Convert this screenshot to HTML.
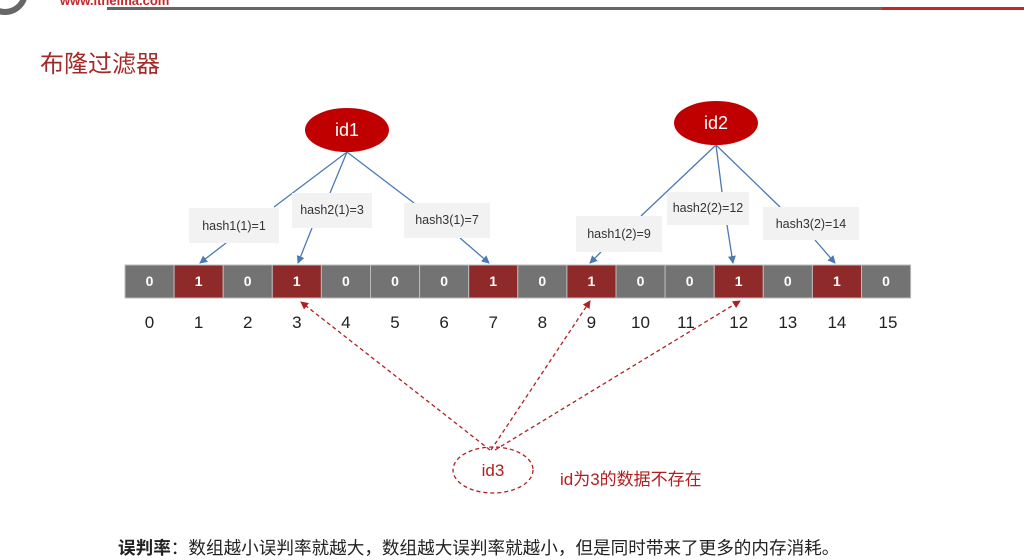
<!DOCTYPE html>
<html><head><meta charset="utf-8"><style>
body{margin:0;width:1024px;height:560px;background:#fff;overflow:hidden;position:relative;font-family:"Liberation Sans","Noto Sans CJK SC",sans-serif}
.t{position:absolute;white-space:nowrap}
</style></head><body>
<svg width="1024" height="560" style="position:absolute;left:0;top:0">
<defs>
<marker id="ab" markerWidth="8" markerHeight="8" refX="7" refY="4" orient="auto" markerUnits="userSpaceOnUse"><path d="M0,0 L8,4 L0,8z" fill="#4a7ab5"/></marker>
<marker id="ar" markerWidth="8" markerHeight="8" refX="7" refY="4" orient="auto" markerUnits="userSpaceOnUse"><path d="M0,0 L8,4 L0,8z" fill="#b02020"/></marker>
</defs>
<circle cx="5" cy="-8" r="20" fill="none" stroke="#666" stroke-width="6"/>
<text x="60" y="5" font-size="13" font-weight="bold" fill="#c0282d" font-family="Liberation Sans">www.itheima.com</text>
<rect x="107" y="7" width="775" height="3" fill="#666"/>
<rect x="882" y="7" width="142" height="3" fill="#c0282d"/>
<g stroke="#bbb" stroke-width="1">
<rect x="125" y="265" width="49.1" height="33" fill="#737373"/>
<rect x="174.1" y="265" width="49.1" height="33" fill="#8e2a2a"/>
<rect x="223.2" y="265" width="49.1" height="33" fill="#737373"/>
<rect x="272.3" y="265" width="49.1" height="33" fill="#8e2a2a"/>
<rect x="321.4" y="265" width="49.1" height="33" fill="#737373"/>
<rect x="370.5" y="265" width="49.1" height="33" fill="#737373"/>
<rect x="419.6" y="265" width="49.1" height="33" fill="#737373"/>
<rect x="468.7" y="265" width="49.1" height="33" fill="#8e2a2a"/>
<rect x="517.8" y="265" width="49.1" height="33" fill="#737373"/>
<rect x="566.9" y="265" width="49.1" height="33" fill="#8e2a2a"/>
<rect x="616" y="265" width="49.1" height="33" fill="#737373"/>
<rect x="665.1" y="265" width="49.1" height="33" fill="#737373"/>
<rect x="714.2" y="265" width="49.1" height="33" fill="#8e2a2a"/>
<rect x="763.3" y="265" width="49.1" height="33" fill="#737373"/>
<rect x="812.4" y="265" width="49.1" height="33" fill="#8e2a2a"/>
<rect x="861.5" y="265" width="49.1" height="33" fill="#737373"/>
</g>
<g font-family="Liberation Sans" font-size="14" font-weight="bold" fill="#fff" text-anchor="middle">
<text x="149.5" y="286">0</text><text x="198.6" y="286">1</text><text x="247.7" y="286">0</text><text x="296.8" y="286">1</text>
<text x="345.9" y="286">0</text><text x="395" y="286">0</text><text x="444.1" y="286">0</text><text x="493.2" y="286">1</text>
<text x="542.3" y="286">0</text><text x="591.4" y="286">1</text><text x="640.5" y="286">0</text><text x="689.6" y="286">0</text>
<text x="738.7" y="286">1</text><text x="787.8" y="286">0</text><text x="836.9" y="286">1</text><text x="886" y="286">0</text>
</g>
<g font-family="Liberation Sans" font-size="17" fill="#222" text-anchor="middle">
<text x="149.5" y="328">0</text><text x="198.6" y="328">1</text><text x="247.7" y="328">2</text><text x="296.8" y="328">3</text>
<text x="345.9" y="328">4</text><text x="395" y="328">5</text><text x="444.1" y="328">6</text><text x="493.2" y="328">7</text>
<text x="542.3" y="328">8</text><text x="591.4" y="328">9</text><text x="640.5" y="328">10</text><text x="686" y="328">11</text>
<text x="738.7" y="328">12</text><text x="787.8" y="328">13</text><text x="836.9" y="328">14</text><text x="888" y="328">15</text>
</g>
<g stroke="#4a7ab5" stroke-width="1.3" fill="none">
<line x1="347" y1="152" x2="274" y2="207"/><line x1="347" y1="152" x2="330" y2="193"/><line x1="347" y1="152" x2="414" y2="203"/>
<line x1="716" y1="145" x2="641" y2="216"/><line x1="716" y1="145" x2="722" y2="192"/><line x1="716" y1="145" x2="780" y2="207"/>
<line x1="226" y1="243" x2="200" y2="263" marker-end="url(#ab)"/><line x1="312" y1="228" x2="298" y2="263" marker-end="url(#ab)"/><line x1="460" y1="238" x2="489" y2="263" marker-end="url(#ab)"/>
<line x1="601" y1="252" x2="590" y2="263" marker-end="url(#ab)"/><line x1="727" y1="225" x2="733" y2="263" marker-end="url(#ab)"/><line x1="815" y1="240" x2="835" y2="263" marker-end="url(#ab)"/>
</g>
<g fill="#f2f2f2">
<rect x="189" y="208" width="90" height="35"/><rect x="292" y="193" width="80" height="35"/><rect x="404" y="203" width="86" height="35"/>
<rect x="576" y="216" width="86" height="36"/><rect x="667" y="192" width="82" height="33"/><rect x="763" y="207" width="96" height="33"/>
</g>
<g font-family="Liberation Sans" font-size="12.5" fill="#333" text-anchor="middle">
<text x="234" y="230">hash1(1)=1</text><text x="332" y="214">hash2(1)=3</text><text x="447" y="224">hash3(1)=7</text>
<text x="619" y="238">hash1(2)=9</text><text x="708" y="212">hash2(2)=12</text><text x="811" y="228">hash3(2)=14</text>
</g>
<ellipse cx="347" cy="130" rx="42" ry="22" fill="#c00000"/>
<ellipse cx="716" cy="123" rx="42" ry="22" fill="#c00000"/>
<g font-family="Liberation Sans" font-size="18" fill="#fff" text-anchor="middle"><text x="347" y="136">id1</text><text x="716" y="129">id2</text></g>
<g stroke="#b02020" stroke-width="1.3" stroke-dasharray="4,3" fill="none">
<line x1="490" y1="450" x2="301" y2="302" marker-end="url(#ar)"/>
<line x1="491" y1="450" x2="590" y2="301" marker-end="url(#ar)"/>
<line x1="495" y1="450" x2="740" y2="301" marker-end="url(#ar)"/>
<ellipse cx="493" cy="470" rx="40" ry="23"/>
</g>
<text x="493" y="476" font-family="Liberation Sans" font-size="17" fill="#b02020" text-anchor="middle">id3</text>
</svg>
<div class="t" style="left:40px;top:44px;font-size:24px;color:#a42a2a">布隆过滤器</div>
<div class="t" style="left:560px;top:465px;font-size:17px;color:#b02020">id为3的数据不存在</div>
<div class="t" style="left:118px;top:535px;font-size:17.6px;color:#222"><b>误判率</b>：数组越小误判率就越大，数组越大误判率就越小，但是同时带来了更多的内存消耗。</div>
</body></html>
